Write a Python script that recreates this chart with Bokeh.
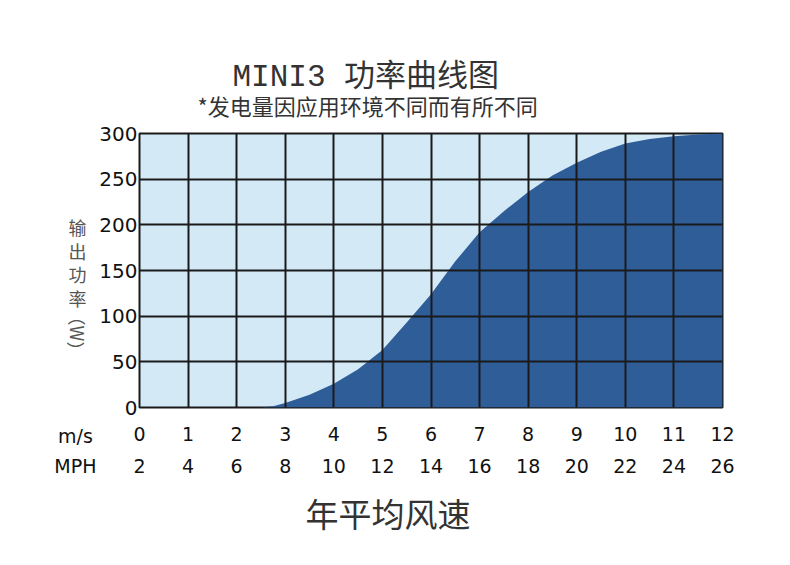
from bokeh.plotting import figure
from bokeh.models import FixedTicker, LinearAxis, Label, Range1d, Title
from bokeh.layouts import row
from bokeh.embed import file_html
from bokeh.resources import INLINE

# ---- data ----
wind_ms = [0, 1, 2, 2.5, 2.75, 3, 3.5, 4, 4.5, 5, 5.5, 6, 6.5, 7, 7.5, 8, 8.5, 9, 9.5, 10, 10.5, 11, 11.5, 12]
power_w = [0, 0, 0, 0, 1.5, 5, 14, 26, 42, 63, 93, 124, 160, 192, 215, 236, 254, 268, 280, 289, 294, 297, 299, 300]
ms_ticks = list(range(0, 13))
mph_labels = ["2", "4", "6", "8", "10", "12", "14", "16", "18", "20", "22", "24", "26"]
power_ticks = [0, 50, 100, 150, 200, 250, 300]

title_text = "MINI3 功率曲线图"
subtitle_text = "*发电量因应用环境不同而有所不同"
xlabel_text = "年平均风速"
ylabel_chars = "输\n出\n功\n率"
ylabel_unit = "（W）"
ms_name = "m/s"
mph_name = "MPH"

LIGHT = "#d3e9f6"
DARK = "#2e5d98"
W, H = 774, 549
LW = 96                                 # width of the left label strip
FL, FT, FR, FB = 139, 133, 722, 407     # frame edges in page px

ROW1_STANDOFF, ROW2_STANDOFF = 19, 15

def style_axis(ax, standoff):
    ax.axis_line_color = None
    ax.major_tick_line_color = None
    ax.minor_tick_line_color = None
    ax.major_tick_in = 0
    ax.major_tick_out = 0
    ax.major_label_standoff = standoff
    ax.major_label_text_font = "DejaVu Sans"
    ax.major_label_text_font_size = "19px"
    ax.major_label_text_color = "#111111"

# ---------- main chart ----------
p = figure(width=W - LW, height=H, output_backend="svg", toolbar_location=None, title=None,
           x_range=Range1d(0, 12), y_range=Range1d(0, 300),
           min_border_left=FL - LW, min_border_right=W - FR, min_border_top=FT, min_border_bottom=H - FB,
           background_fill_color=LIGHT, border_fill_color="white",
           x_axis_location=None, y_axis_location=None)
p.outline_line_color = "#1a1a1a"
p.outline_line_width = 2

p.varea(x=wind_ms, y1=0, y2=power_w, fill_color=DARK)

p.xgrid.ticker = FixedTicker(ticks=ms_ticks)
p.ygrid.ticker = FixedTicker(ticks=power_ticks)
for g in (p.xgrid[0], p.ygrid[0]):
    g.grid_line_color = "#1a1a1a"
    g.grid_line_width = 2
    g.grid_line_alpha = 1
    g.level = "overlay"

yax = LinearAxis(ticker=FixedTicker(ticks=power_ticks))
style_axis(yax, 2)
yax.major_label_text_font_size = "20px"
p.add_layout(yax, "left")

xax1 = LinearAxis(ticker=FixedTicker(ticks=ms_ticks))
style_axis(xax1, ROW1_STANDOFF)
p.add_layout(xax1, "below")

xax2 = LinearAxis(ticker=FixedTicker(ticks=ms_ticks),
                  major_label_overrides={t: lab for t, lab in zip(ms_ticks, mph_labels)})
style_axis(xax2, ROW2_STANDOFF)
p.add_layout(xax2, "below")

# titles live in side panels (not clipped to the frame)
p.add_layout(Title(text=subtitle_text, align="left", offset=58, standoff=25,
                   text_font="Noto Sans CJK SC", text_font_size="22px", text_font_style="normal",
                   text_color="#333333"), "above")
p.add_layout(Title(text=title_text, align="left", offset=93, standoff=-40,
                   text_font="Liberation Mono, Noto Sans CJK SC", text_font_size="31px",
                   text_font_style="normal", text_color="#333333"), "above")
p.add_layout(Title(text=xlabel_text, align="left", offset=166, standoff=23,
                   text_font="Noto Sans CJK SC", text_font_size="33px", text_font_style="normal",
                   text_color="#333333"), "below")

# ---------- left label strip ----------
q = figure(width=LW, height=H, output_backend="svg", toolbar_location=None, title=None,
           x_range=Range1d(0, LW), y_range=Range1d(FB, FT), min_border=0,
           x_axis_location=None, y_axis_location=None,
           background_fill_color="white", border_fill_color="white")
q.outline_line_color = None
q.xgrid.visible = False
q.ygrid.visible = False

name_pos = [75]
qax1 = LinearAxis(ticker=FixedTicker(ticks=name_pos), major_label_overrides={name_pos[0]: ms_name})
style_axis(qax1, ROW1_STANDOFF - 2)
q.add_layout(qax1, "below")
qax2 = LinearAxis(ticker=FixedTicker(ticks=name_pos), major_label_overrides={name_pos[0]: mph_name})
style_axis(qax2, ROW2_STANDOFF - 10)
q.add_layout(qax2, "below")

def lab(cx, cy, text, size, font, color, angle=0, lh=1.2):
    q.add_layout(Label(x=cx, y=cy, text=text, text_align="center", text_baseline="middle",
                       text_font_size=size, text_font=font, text_color=color,
                       angle=angle, text_line_height=lh))

lab(77, 262, ylabel_chars, "18px", "Noto Sans CJK SC", "#555555", lh=0.9)
lab(77, 333, ylabel_unit, "18px", "Noto Sans CJK SC", "#555555", angle=-1.5708)

layout = row(q, p)
open("out.html", "w").write(file_html(layout, INLINE))
